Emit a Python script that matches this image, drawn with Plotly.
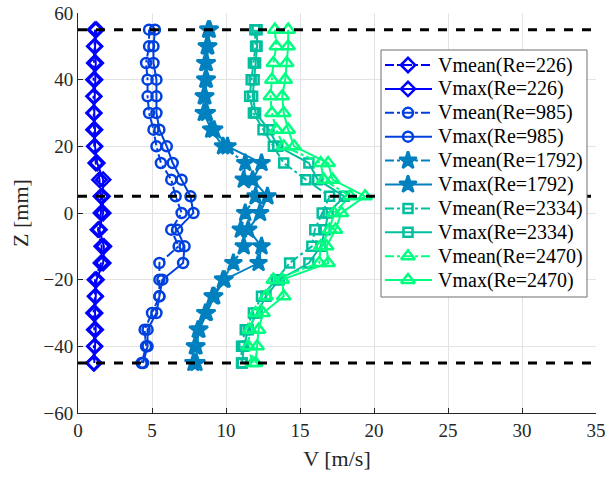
import plotly.graph_objects as go

# Axial positions of the measurement points [mm]
z_mm = [55, 50, 45, 40, 35, 30, 25, 20, 15, 10, 5, 0, -5, -10, -15, -20, -25, -30, -35, -40, -45]

# Velocity profiles [m/s] for each Reynolds number
vmean_226 = [1.15, 1.1, 1.1, 1.05, 1.05, 1.05, 1.05, 1.1, 1.2, 1.45, 1.55, 1.55, 1.35, 1.6, 1.55, 1.15, 1.15, 1.05, 1.1, 1.1, 1.05]
vmax_226 = [1.25, 1.15, 1.2, 1.15, 1.1, 1.1, 1.15, 1.15, 1.3, 1.7, 1.65, 1.7, 1.45, 1.75, 1.7, 1.25, 1.2, 1.15, 1.2, 1.15, 1.1]

vmean_985 = [4.8, 4.8, 4.6, 4.7, 4.7, 4.8, 5.1, 5.3, 5.6, 6.3, 6.6, 7.0, 6.3, 6.8, 5.5, 5.5, 5.5, 5.0, 4.5, 4.6, 4.3]
vmax_985 = [5.2, 5.1, 5.1, 5.3, 5.3, 5.3, 5.5, 6.0, 6.4, 7.0, 7.6, 7.8, 6.7, 7.2, 7.1, 5.7, 5.5, 5.3, 4.7, 4.7, 4.4]

vmean_1792 = [8.8, 8.7, 8.6, 8.6, 8.5, 8.5, 9.0, 9.8, 11.3, 11.2, 12.0, 11.3, 11.0, 11.2, 10.5, 9.8, 9.1, 8.6, 8.1, 7.9, 7.8]
vmax_1792 = [8.9, 8.8, 8.7, 8.7, 8.6, 8.7, 9.2, 10.1, 12.4, 11.8, 12.8, 12.3, 11.5, 12.4, 12.2, 9.9, 9.2, 8.7, 8.2, 8.0, 8.0]

vmean_2334 = [11.95, 12.0, 11.85, 11.7, 11.6, 11.85, 12.5, 13.2, 13.9, 15.4, 17.0, 16.5, 16.0, 15.8, 14.3, 13.4, 12.4, 11.85, 11.3, 11.05, 11.05]
vmax_2334 = [12.1, 12.1, 12.0, 11.9, 11.8, 12.0, 12.9, 13.5, 15.6, 16.2, 18.0, 16.9, 16.7, 16.4, 15.6, 13.6, 12.7, 12.1, 11.5, 11.2, 11.1]

vmean_2470 = [13.3, 13.4, 13.2, 13.1, 13.0, 13.1, 13.4, 13.9, 16.4, 16.6, 18.4, 17.3, 17.0, 16.4, 16.3, 13.2, 12.7, 12.0, 11.6, 11.5, 11.8]
vmax_2470 = [14.2, 14.2, 14.1, 14.0, 13.8, 13.9, 14.2, 14.6, 16.9, 17.2, 19.4, 17.8, 17.4, 16.8, 16.9, 13.8, 13.9, 12.5, 12.2, 12.1, 12.0]

reynolds = ["226", "985", "1792", "2334", "2470"]
vmean_sets = [vmean_226, vmean_985, vmean_1792, vmean_2334, vmean_2470]
vmax_sets = [vmax_226, vmax_985, vmax_1792, vmax_2334, vmax_2470]
colors = ["#0000FF", "#0040DF", "#0080BF", "#00BF9F", "#00FF80"]
symbols = ["diamond-open", "circle-open", "star", "square-open", "triangle-up-open"]
msizes = [11, 10, 13, 9, 12]

# Reference heights drawn as dashed black lines [mm]
ref_z = [55, 5, -45]
x_range = [0, 35]
y_range = [-60, 60]

FONT = "Liberation Serif"
INK = "#262626"

# Figure / plot-area geometry in pixels
W, H = 609, 480
ML, MR, MT, MB = 78, 13, 13, 67
PW, PH = W - ML - MR, H - MT - MB

fig = go.Figure()

entries = []
for re, vm, vx, col, sym, ms in zip(reynolds, vmean_sets, vmax_sets, colors, symbols, msizes):
    mk = dict(symbol=sym, size=ms, color=col, line=dict(color=col, width=2.5))
    fig.add_trace(go.Scatter(
        x=vm, y=z_mm, mode="lines+markers", name=f"Vmean(Re={re})",
        line=dict(color=col, width=2, dash="dashdot"), marker=mk, showlegend=False,
    ))
    fig.add_trace(go.Scatter(
        x=vx, y=z_mm, mode="lines+markers", name=f"Vmax(Re={re})",
        line=dict(color=col, width=2), marker=mk, showlegend=False,
    ))
    entries.append((f"Vmean(Re={re})", col, mk, "dashdot"))
    entries.append((f"Vmax(Re={re})", col, mk, "solid"))

for zr in ref_z:
    fig.add_trace(go.Scatter(
        x=x_range, y=[zr, zr], mode="lines", showlegend=False, hoverinfo="skip",
        line=dict(color="black", width=3, dash="dash"),
    ))

# Legend box, drawn on a pixel-scaled overlay so it sits above the curves
box_l, box_r, box_t, box_b = 381 - ML, 587 - ML, 50 - MT, 297 - MT
fig.add_trace(go.Scatter(
    x=[box_l, box_r, box_r, box_l, box_l], y=[box_t, box_t, box_b, box_b, box_t],
    mode="lines", fill="toself", fillcolor="white",
    line=dict(color="#6e6e6e", width=1), xaxis="x2", yaxis="y2",
    showlegend=False, hoverinfo="skip",
))

row0, row_step = 65 - MT, 23.9
line_x0, line_x1, mark_x, text_x = 385 - ML, 432 - ML, 408 - ML, 436 - ML
annotations = []
for i, (label, col, mk, dash) in enumerate(entries):
    yy = row0 + i * row_step
    fig.add_trace(go.Scatter(
        x=[line_x0, line_x1], y=[yy, yy], mode="lines",
        line=dict(color=col, width=2, dash=dash), xaxis="x2", yaxis="y2",
        showlegend=False, hoverinfo="skip",
    ))
    fig.add_trace(go.Scatter(
        x=[mark_x], y=[yy], mode="markers", marker=mk, xaxis="x2", yaxis="y2",
        showlegend=False, hoverinfo="skip",
    ))
    annotations.append(dict(
        x=text_x, y=yy, xref="x2", yref="y2", text=label, showarrow=False,
        xanchor="left", yanchor="middle",
        font=dict(family=FONT, size=20, color="black"),
    ))

axis_common = dict(
    showgrid=True, gridcolor="#E3E3E3", gridwidth=1,
    showline=True, linecolor=INK, linewidth=1,
    ticks="inside", ticklen=5, tickcolor=INK,
    tickfont=dict(family=FONT, size=19, color=INK),
    zeroline=False, mirror=False, automargin=False,
)

fig.update_layout(
    width=W, height=H,
    margin=dict(l=ML, r=MR, t=MT, b=MB),
    paper_bgcolor="white", plot_bgcolor="white",
    font=dict(family=FONT, color=INK),
    xaxis=dict(range=x_range, dtick=5,
               title=dict(text="V [m/s]", font=dict(family=FONT, size=22, color=INK), standoff=10),
               **axis_common),
    yaxis=dict(range=y_range, dtick=20,
               title=dict(text="Z [mm]", font=dict(family=FONT, size=22, color=INK), standoff=8),
               **axis_common),
    xaxis2=dict(overlaying="x", range=[0, PW], visible=False, fixedrange=True),
    yaxis2=dict(overlaying="y", range=[PH, 0], visible=False, fixedrange=True),
    annotations=annotations,
    showlegend=False,
)

fig.write_html("out.html")
